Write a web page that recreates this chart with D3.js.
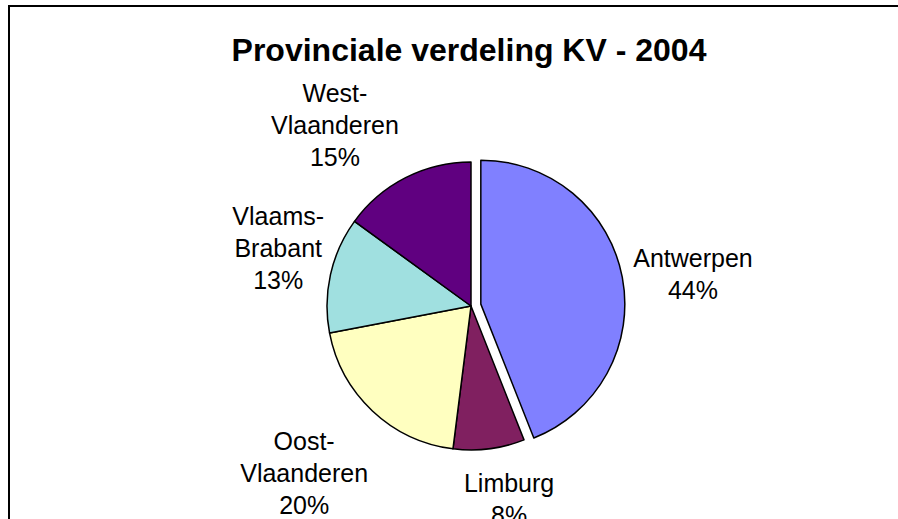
<!DOCTYPE html>
<html>
<head>
<meta charset="utf-8">
<script src="https://cdn.jsdelivr.net/npm/d3@7/dist/d3.min.js"></script>
<style>
	body { margin: 0; background: #fff; }
	svg { display: block; }
</style>
</head>
<body>
<div id="chart"></div>
<script>
/*
Pie chart: provinciale verdeling KV - 2004
*/

var provinces = ["Antwerpen", "Limburg", "Oost-Vlaanderen", "Vlaams-Brabant", "West-Vlaanderen"];
var shares = [44, 8, 20, 13, 15];
var colors = ["#8080ff", "#802060", "#ffffc0", "#a0e0e0", "#600080"];
var exploded = ["Antwerpen"];

var width = 898,
	height = 519;

var cx = 471, cy = 306,
	radius = 144,
	explode = 10,
	labelRadius = 216,
	lineHeight = 32;

// small hand tweaks, excel puts its labels a bit wherever it likes
var labelNudge = {
	"Antwerpen": [0, 10],
	"Limburg": [11, -21],
	"Oost-Vlaanderen": [-19, 10],
	"Vlaams-Brabant": [18, -11],
	"West-Vlaanderen": [-38, 11]
};

var data = provinces.map(function(p, i) { return { name: p, value: shares[i] }; });
var total = d3.sum(shares);
var formatPct = d3.format(".0%");

var color = d3.scaleOrdinal()
	.domain(provinces)
	.range(colors);

var pie = d3.pie()
	.sort(null)
	.value(function(d) { return d.value; });

var arc = d3.arc()
	.innerRadius(0)
	.outerRadius(radius);

var labelArc = d3.arc()
	.innerRadius(labelRadius)
	.outerRadius(labelRadius);

var svg = d3.select("#chart").append("svg")
	.attr("width", width)
	.attr("height", height);

// chart frame (runs off the right/bottom of the picture)
svg.append("rect")
	.attr("x", 9)
	.attr("y", 6)
	.attr("width", width + 20)
	.attr("height", height + 20)
	.attr("fill", "none")
	.attr("stroke", "#000")
	.attr("stroke-width", 2);

svg.append("text")
	.attr("x", 469)
	.attr("y", 61)
	.attr("text-anchor", "middle")
	.style("font-family", "'Liberation Sans', Arial, sans-serif")
	.style("font-weight", "bold")
	.style("font-size", "32px")
	.text("Provinciale verdeling KV - 2004");

var g = svg.append("g")
	.attr("transform", "translate(" + cx + "," + cy + ")");

function offset(d) {
	if (exploded.indexOf(d.data.name) < 0) return [0, 0];
	var a = (d.startAngle + d.endAngle) / 2;
	return [Math.sin(a) * explode, -Math.cos(a) * explode];
}

var slices = g.selectAll("g.slice")
	.data(pie(data))
  .enter().append("g")
	.attr("class", "slice");

slices.append("path")
	.attr("d", arc)
	.attr("transform", function(d) { var o = offset(d); return "translate(" + o[0] + "," + o[1] + ")"; })
	.attr("fill", function(d) { return color(d.data.name); })
	.attr("stroke", "#000")
	.attr("stroke-width", 1.5)
	.attr("stroke-linejoin", "round");

slices.append("text")
	.attr("text-anchor", "middle")
	.style("font-family", "'Liberation Sans', Arial, sans-serif")
	.style("font-size", "25px")
	.attr("fill", "#000")
	.each(function(d) {
		var c = labelArc.centroid(d),
			o = offset(d),
			n = labelNudge[d.data.name] || [0, 0];
		var x = c[0] + o[0] + n[0],
			y = c[1] + o[1] + n[1];
		var parts = d.data.name.split("-");
		var lines = parts.length > 1 ? [parts[0] + "-", parts.slice(1).join("-")] : [parts[0]];
		lines.push(formatPct(d.data.value / total));
		var t = d3.select(this);
		lines.forEach(function(l, i) {
			t.append("tspan")
				.attr("x", x)
				.attr("y", y + 9 + (i - (lines.length - 1) / 2) * lineHeight)
				.text(l);
		});
	});
</script>
</body>
</html>
